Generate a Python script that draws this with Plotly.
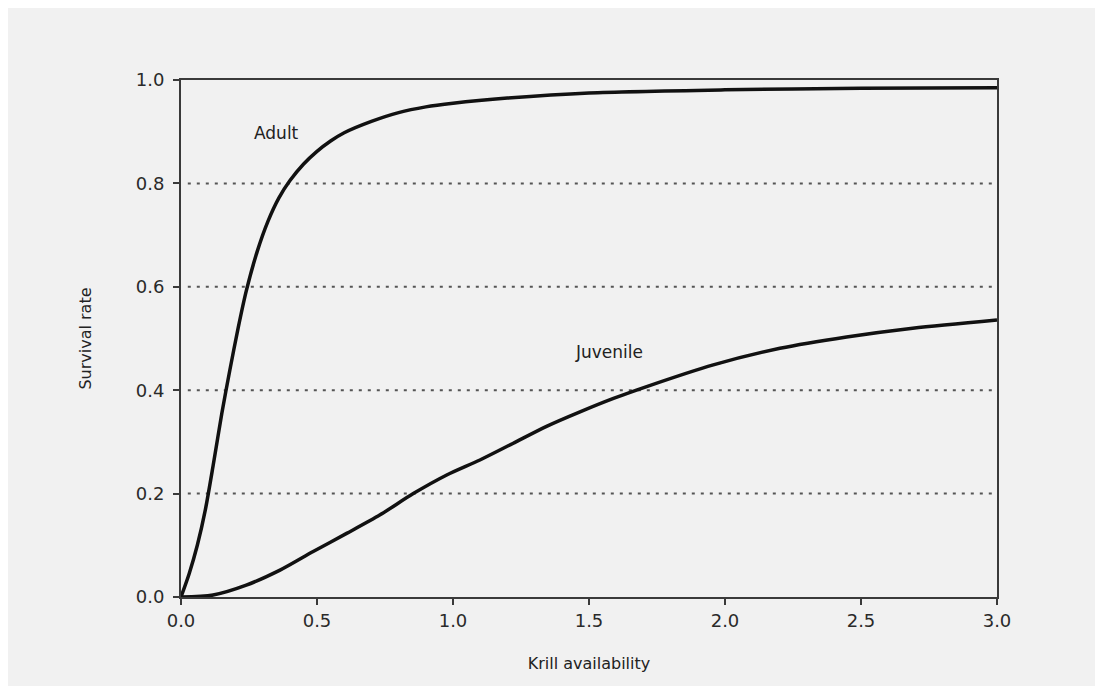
import plotly.graph_objects as go

# Adult survival curve
adult_x = [0.0, 0.03, 0.06, 0.09, 0.12, 0.15, 0.18, 0.21, 0.24, 0.28, 0.32, 0.36,
           0.40, 0.45, 0.50, 0.55, 0.60, 0.70, 0.80, 0.90, 1.0, 1.2, 1.5, 2.0, 2.5, 3.0]
adult_y = [0.0, 0.045, 0.10, 0.17, 0.26, 0.355, 0.44, 0.52, 0.592, 0.668, 0.727, 0.772,
           0.805, 0.837, 0.862, 0.882, 0.898, 0.920, 0.937, 0.948, 0.955, 0.965, 0.975,
           0.981, 0.984, 0.985]

# Juvenile survival curve
juv_x = [0.0, 0.118, 0.24, 0.364, 0.486, 0.609, 0.732, 0.854, 0.977, 1.099, 1.22,
         1.344, 1.467, 1.59, 1.712, 1.957, 2.202, 2.447, 2.69, 3.0]
juv_y = [0.0, 0.004, 0.023, 0.052, 0.088, 0.123, 0.159, 0.200, 0.236, 0.265, 0.297,
         0.330, 0.358, 0.384, 0.407, 0.449, 0.481, 0.503, 0.520, 0.536]

x_ticks = [0.0, 0.5, 1.0, 1.5, 2.0, 2.5, 3.0]
y_ticks = [0.0, 0.2, 0.4, 0.6, 0.8, 1.0]
grid_levels = [0.2, 0.4, 0.6, 0.8]

labels = ["Adult", "Juvenile"]
label_x = [0.35, 1.575]
label_y = [0.897, 0.474]

FONT = "DejaVu Sans, Liberation Sans, Arial"

fig = go.Figure()

for g in grid_levels:
    fig.add_trace(go.Scatter(x=[0.025, 2.99], y=[g, g], mode="lines",
                             line=dict(color="#555555", width=2, dash="3px,6px"),
                             hoverinfo="skip", showlegend=False))

fig.add_trace(go.Scatter(x=adult_x, y=adult_y, mode="lines",
                         line=dict(color="#111111", width=3.5, shape="spline", smoothing=0.8),
                         name="Adult", showlegend=False))
fig.add_trace(go.Scatter(x=juv_x, y=juv_y, mode="lines",
                         line=dict(color="#111111", width=3.5, shape="spline", smoothing=0.8),
                         name="Juvenile", showlegend=False))

for t, lx, ly in zip(labels, label_x, label_y):
    fig.add_annotation(x=lx, y=ly, text=t, showarrow=False,
                       font=dict(family=FONT, size=17, color="#222222"))

axis_common = dict(showline=True, linecolor="#3a3a3a", linewidth=2, mirror=True,
                   ticks="outside", ticklen=6, tickwidth=1.5, tickcolor="#3a3a3a",
                   showgrid=False, zeroline=False,
                   tickfont=dict(family=FONT, size=18, color="#2a2a2a"))

fig.update_xaxes(range=[0, 3.0], tickvals=x_ticks, ticktext=[f"{v:.1f}" for v in x_ticks],
                 title=dict(text="Krill availability", standoff=28,
                            font=dict(family=FONT, size=16, color="#222222")),
                 **axis_common)
fig.update_yaxes(range=[0, 1.0], tickvals=y_ticks, ticktext=[f"{v:.1f}" for v in y_ticks],
                 ticklabelstandoff=5,
                 title=dict(text="Survival rate", standoff=40,
                            font=dict(family=FONT, size=16, color="#222222")),
                 **axis_common)

fig.update_layout(width=1095, height=678,
                  margin=dict(l=173, r=106, t=72, b=89),
                  paper_bgcolor="#f1f1f1", plot_bgcolor="#f1f1f1",
                  showlegend=False)

fig.write_html("out.html")
